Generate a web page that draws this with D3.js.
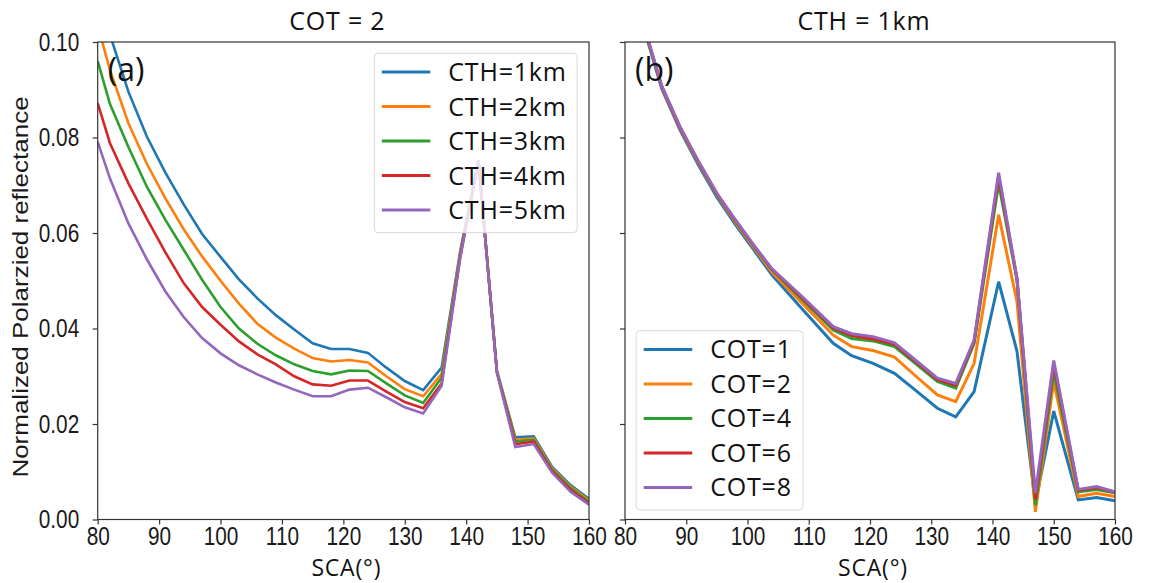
<!DOCTYPE html>
<html lang="en">
<head>
<meta charset="UTF-8">
<title>Normalized polarized reflectance vs SCA</title>
<script src="https://d3js.org/d3.v7.min.js"></script>
<style>
  body { margin: 0; background: #fff; }
  svg { display: block; }
  .tick text { font-family: "Liberation Sans", Arial, sans-serif; font-size: 26px; fill: #1a1a1a; }
  .domain { display: none; }
  .tick line { stroke: #333; stroke-width: 1.2; }
  .lbl { font-family: "Open Sans", sans-serif; fill: #111; }
</style>
</head>
<body>
<svg id="chart"></svg>
<script>
// panel (a): COT = 2, varying cloud top height
const scaA = [80, 82, 85, 88, 91, 94, 97, 100, 103, 106, 109, 112, 115, 118, 121, 124, 127, 130, 133, 136, 139, 142, 145, 148, 151, 154, 157, 160];
const cth1 = [0.1100, 0.1015, 0.0896, 0.0802, 0.0727, 0.0660, 0.0598, 0.0550, 0.0503, 0.0463, 0.0428, 0.0398, 0.0369, 0.0357, 0.0357, 0.0349, 0.0318, 0.0290, 0.0271, 0.0318, 0.0560, 0.0752, 0.0312, 0.0172, 0.0174, 0.0110, 0.0072, 0.0043];
const cth2 = [0.1035, 0.0941, 0.0830, 0.0745, 0.0673, 0.0608, 0.0551, 0.0500, 0.0452, 0.0410, 0.0381, 0.0358, 0.0338, 0.0331, 0.0334, 0.0329, 0.0300, 0.0273, 0.0258, 0.0305, 0.0555, 0.0752, 0.0311, 0.0167, 0.0170, 0.0107, 0.0069, 0.0040];
const cth3 = [0.0960, 0.0870, 0.0780, 0.0697, 0.0628, 0.0565, 0.0502, 0.0445, 0.0400, 0.0368, 0.0344, 0.0325, 0.0311, 0.0304, 0.0312, 0.0311, 0.0285, 0.0260, 0.0244, 0.0297, 0.0550, 0.0752, 0.0310, 0.0163, 0.0167, 0.0104, 0.0066, 0.0037];
const cth4 = [0.0872, 0.0788, 0.0704, 0.0630, 0.0560, 0.0495, 0.0445, 0.0408, 0.0373, 0.0346, 0.0325, 0.0300, 0.0283, 0.0280, 0.0291, 0.0291, 0.0268, 0.0246, 0.0233, 0.0285, 0.0548, 0.0752, 0.0309, 0.0158, 0.0163, 0.0101, 0.0062, 0.0034];
const cth5 = [0.0791, 0.0714, 0.0620, 0.0545, 0.0478, 0.0424, 0.0380, 0.0348, 0.0323, 0.0304, 0.0287, 0.0272, 0.0258, 0.0258, 0.0272, 0.0276, 0.0256, 0.0235, 0.0222, 0.0280, 0.0545, 0.0752, 0.0308, 0.0152, 0.0158, 0.0098, 0.0058, 0.0031];
const cthLabels = ["CTH=1km", "CTH=2km", "CTH=3km", "CTH=4km", "CTH=5km"];

// panel (b): CTH = 1km, varying cloud optical thickness
const scaB = [80, 83, 86, 89, 92, 95, 98, 101, 104, 109, 114, 117, 120.5, 124, 127.5, 131, 134, 137, 141, 144, 147, 150, 154, 157, 160];
const cot1 = [0.1176, 0.1033, 0.0902, 0.0815, 0.0742, 0.0675, 0.0618, 0.0565, 0.0512, 0.0440, 0.0369, 0.0343, 0.0327, 0.0306, 0.0270, 0.0233, 0.0215, 0.0268, 0.0498, 0.0352, 0.0034, 0.0227, 0.0041, 0.0046, 0.0039];
const cot2 = [0.1178, 0.1035, 0.0905, 0.0818, 0.0746, 0.0679, 0.0623, 0.0570, 0.0518, 0.0452, 0.0386, 0.0362, 0.0354, 0.0340, 0.0300, 0.0261, 0.0247, 0.0327, 0.0638, 0.0456, 0.0016, 0.0289, 0.0048, 0.0055, 0.0048];
const cot4 = [0.1179, 0.1036, 0.0906, 0.0820, 0.0748, 0.0681, 0.0626, 0.0573, 0.0523, 0.0460, 0.0397, 0.0379, 0.0374, 0.0362, 0.0326, 0.0289, 0.0275, 0.0369, 0.0704, 0.0502, 0.0030, 0.0310, 0.0058, 0.0063, 0.0056];
const cot6 = [0.1180, 0.1037, 0.0907, 0.0821, 0.0749, 0.0682, 0.0627, 0.0574, 0.0524, 0.0463, 0.0401, 0.0385, 0.0378, 0.0367, 0.0330, 0.0293, 0.0281, 0.0373, 0.0718, 0.0504, 0.0042, 0.0325, 0.0061, 0.0067, 0.0057];
const cot8 = [0.1180, 0.1038, 0.0908, 0.0822, 0.0750, 0.0683, 0.0628, 0.0575, 0.0525, 0.0466, 0.0404, 0.0389, 0.0383, 0.0370, 0.0333, 0.0296, 0.0285, 0.0376, 0.0726, 0.0505, 0.0055, 0.0333, 0.0063, 0.0069, 0.0058];
const cotLabels = ["COT=1", "COT=2", "COT=4", "COT=6", "COT=8"];

const xTicks = [80, 90, 100, 110, 120, 130, 140, 150, 160];
const yTicks = [0, 0.02, 0.04, 0.06, 0.08, 0.10];
const colors = ["#1f77b4", "#ff7f0e", "#2ca02c", "#d62728", "#9467bd"];

const W = 1150, H = 583;
const plotTop = 42, plotBottom = 519.5;
const squeeze = 0.8; // tick numbers in the source are narrow

const svg = d3.select("#chart").attr("width", W).attr("height", H);

const panels = [
    { id: "a", left: 97.7, right: 589, xs: scaA, series: [cth1, cth2, cth3, cth4, cth5], labels: cthLabels,
      title: "COT = 2", tag: "(a)", yLabels: true, lw: 2.6, legend: { x: 374.3, y: 53.3, w: 202.8, h: 179.4 } },
    { id: "b", left: 625, right: 1115, xs: scaB, series: [cot1, cot2, cot4, cot6, cot8], labels: cotLabels,
      title: "CTH = 1km", tag: "(b)", yLabels: false, lw: 3, legend: { x: 636.2, y: 330.7, w: 166.8, h: 179.3 } }
];

panels.forEach(p => {
    const x = d3.scaleLinear().domain([80, 160]).range([p.left, p.right]);
    const y = d3.scaleLinear().domain([0, 0.1]).range([plotBottom, plotTop]);
    const midX = (p.left + p.right) / 2;

    svg.append("clipPath").attr("id", "clip-" + p.id)
        .append("rect").attr("x", p.left).attr("y", plotTop)
        .attr("width", p.right - p.left).attr("height", plotBottom - plotTop);

    // axes
    const gx = svg.append("g").attr("transform", `translate(0,${plotBottom})`)
        .call(d3.axisBottom(x).tickValues(xTicks).tickSize(5).tickSizeOuter(0).tickFormat(d3.format("d")));
    gx.selectAll(".tick text").attr("y", 7).attr("dy", "0.71em").attr("transform", `scale(${squeeze},1)`);

    const gy = svg.append("g").attr("transform", `translate(${p.left},0)`)
        .call(d3.axisLeft(y).tickValues(yTicks).tickSize(5).tickSizeOuter(0).tickFormat(d3.format(".2f")));
    if (p.yLabels) {
        gy.selectAll(".tick text").attr("x", -18.5 / squeeze).attr("transform", `scale(${squeeze},1)`);
    } else {
        gy.selectAll(".tick text").remove();
    }

    // lines
    const line = d3.line().x((d, i) => x(p.xs[i])).y(d => y(d));
    svg.append("g").attr("clip-path", `url(#clip-${p.id})`)
        .selectAll("path").data(p.series).join("path")
        .attr("d", line)
        .attr("fill", "none")
        .attr("stroke", (d, i) => colors[i])
        .attr("stroke-width", p.lw)
        .attr("stroke-linejoin", "miter");

    // frame
    svg.append("rect").attr("x", p.left).attr("y", plotTop)
        .attr("width", p.right - p.left).attr("height", plotBottom - plotTop)
        .attr("fill", "none").attr("stroke", "#333").attr("stroke-width", 1.2);

    // legend
    const lg = svg.append("g").attr("transform", `translate(${p.legend.x},${p.legend.y})`);
    lg.append("rect").attr("width", p.legend.w).attr("height", p.legend.h).attr("rx", 4)
        .attr("fill", "#fff").attr("fill-opacity", 0.8).attr("stroke", "#d9d9d9").attr("stroke-width", 1);
    p.labels.forEach((lab, i) => {
        const cy = 18.8 + i * 34.5;
        lg.append("line").attr("x1", 7.5).attr("x2", 56).attr("y1", cy).attr("y2", cy)
            .attr("stroke", colors[i]).attr("stroke-width", 3);
        lg.append("text").attr("class", "lbl").attr("x", 74).attr("y", cy).attr("dy", "0.36em")
            .attr("font-size", 25).attr("letter-spacing", 0.8).text(lab);
    });

    // panel tag
    svg.append("text").attr("class", "lbl").attr("x", p.left + 10).attr("y", 81)
        .attr("font-size", 32).text(p.tag);

    // title
    svg.append("text").attr("class", "lbl").attr("x", midX - 6).attr("y", 29.5)
        .attr("text-anchor", "middle").attr("font-size", 25).attr("letter-spacing", 0.8).text(p.title);

    // x label
    svg.append("text").attr("class", "lbl").attr("x", midX + 3).attr("y", 576)
        .attr("text-anchor", "middle").attr("font-size", 23).attr("letter-spacing", 0.8).text("SCA(°)");
});

// y label
svg.append("text")
    .attr("transform", "translate(28,287) scale(0.88,1) rotate(-90)")
    .attr("text-anchor", "middle")
    .attr("font-family", "Liberation Sans, Arial, sans-serif")
    .attr("font-size", 26).attr("fill", "#1a1a1a")
    .text("Normalized Polarzied reflectance");
</script>
</body>
</html>
